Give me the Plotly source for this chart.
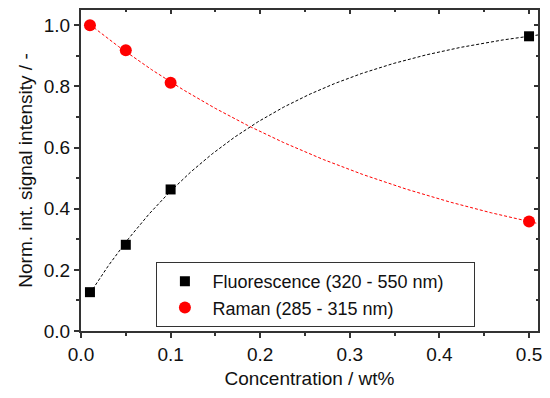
import numpy as np
import plotly.graph_objects as go

# Measured concentrations (wt%) and normalised integrated intensities
concentration = [0.01, 0.05, 0.1, 0.5]
fluorescence = [0.127, 0.282, 0.463, 0.964]
raman = [1.0, 0.918, 0.812, 0.358]

fluo_name = "Fluorescence (320 - 550 nm)"
raman_name = "Raman (285 - 315 nm)"

x_range = [0, 0.51]
y_range = [0, 1.05]
x_ticks = [0, 0.1, 0.2, 0.3, 0.4, 0.5]
y_ticks = [0, 0.2, 0.4, 0.6, 0.8, 1.0]


def exp_fit(x, y):
    """Least-squares fit of y = a + b*exp(-x/t) (grid over t, linear in a, b)."""
    x = np.asarray(x, float)
    y = np.asarray(y, float)
    best = None
    for t in np.linspace(0.02, 2.0, 2000):
        A = np.column_stack([np.ones_like(x), np.exp(-x / t)])
        coef, *_ = np.linalg.lstsq(A, y, rcond=None)
        err = np.sum((A @ coef - y) ** 2)
        if best is None or err < best[0]:
            best = (err, coef, t)
    _, (a, b), t = best
    return lambda xx: a + b * np.exp(-np.asarray(xx) / t)


xs = np.linspace(min(concentration), x_range[1], 300)
fluo_fit = exp_fit(concentration, fluorescence)(xs)
raman_fit = exp_fit(concentration, raman)(xs)

font = dict(family="Liberation Sans, Arial, sans-serif", size=19, color="#111")
legend_font = dict(font, size=18)
axis_color = "#333"
# trailing no-break spaces give the legend box some room on the right
legend_pad = "\u00a0" * 5

fig = go.Figure()
fig.add_trace(go.Scatter(x=xs, y=fluo_fit, mode="lines", showlegend=False,
                         line=dict(color="black", width=1, dash="3px,2px"),
                         hoverinfo="skip"))
fig.add_trace(go.Scatter(x=xs, y=raman_fit, mode="lines", showlegend=False,
                         line=dict(color="red", width=1, dash="3px,2px"),
                         hoverinfo="skip"))
fig.add_trace(go.Scatter(x=concentration, y=fluorescence, mode="markers",
                         name=fluo_name + legend_pad,
                         marker=dict(symbol="square", size=10, color="black")))
fig.add_trace(go.Scatter(x=concentration, y=raman, mode="markers", name=raman_name,
                         marker=dict(symbol="circle", size=12, color="red")))

axis_common = dict(showgrid=False, zeroline=False, showline=True, linecolor=axis_color,
                   linewidth=2, mirror=True, ticks="outside", ticklen=5,
                   tickwidth=1.5, tickcolor=axis_color, tickfont=font)

fig.update_xaxes(range=x_range, tickvals=x_ticks, tickformat=".1f",
                 minor=dict(dtick=0.05, tick0=0, ticks="outside", ticklen=3,
                            tickcolor=axis_color),
                 title=dict(text="Concentration / wt%", font=font, standoff=8),
                 **axis_common)
fig.update_yaxes(range=y_range, tickvals=y_ticks, tickformat=".1f",
                 minor=dict(dtick=0.1, tick0=0, ticks="outside", ticklen=3,
                            tickcolor=axis_color),
                 title=dict(text="Norm. int. signal intensity / -", font=font, standoff=6),
                 **axis_common)

# Opposite (top/right) axes carry inward-pointing ticks only
fig.update_layout(
    xaxis2=dict(overlaying="x", side="top", range=x_range, tickvals=x_ticks,
                showticklabels=False, ticks="inside", ticklen=4, tickwidth=1.5,
                tickcolor=axis_color, showgrid=False, zeroline=False, showline=False,
                minor=dict(dtick=0.05, tick0=0, ticks="inside", ticklen=2,
                           tickcolor=axis_color)),
    yaxis2=dict(overlaying="y", side="right", range=y_range, tickvals=y_ticks,
                showticklabels=False, ticks="inside", ticklen=4, tickwidth=1.5,
                tickcolor=axis_color, showgrid=False, zeroline=False, showline=False,
                minor=dict(dtick=0.1, tick0=0, ticks="inside", ticklen=2,
                           tickcolor=axis_color)),
)
fig.add_trace(go.Scatter(x=[None], y=[None], xaxis="x2", yaxis="y2", showlegend=False,
                         hoverinfo="skip"))

fig.update_layout(
    width=550, height=398,
    margin=dict(l=81, r=8, t=10, b=67),
    paper_bgcolor="white", plot_bgcolor="white",
    font=font,
    legend=dict(x=0.165, y=0.215, xanchor="left", yanchor="top",
                bordercolor=axis_color, borderwidth=1, bgcolor="white",
                font=legend_font, itemwidth=45, tracegroupgap=0),
)

fig.write_html("out.html")
